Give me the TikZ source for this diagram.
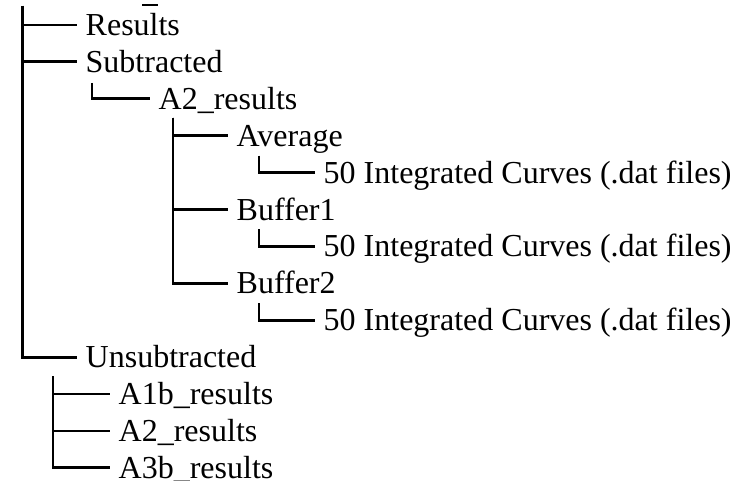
\documentclass[tikz,border=0pt]{standalone}
\usepackage{fontspec}
\setmainfont{Liberation Serif}
\begin{document}
\begin{tikzpicture}[x=1pt,y=-1pt]
	\tikzstyle{branche}=[line width=2.8pt]
	\tikzstyle{dossier}=[anchor=west,inner xsep=8.5pt,inner ysep=0pt,text height=21pt,text depth=0pt,font=\fontsize{32}{38}\selectfont]
	\def\Haut{25}
	\def\InterLignes{36.9}
	\def\NiveauA{77}
	\def\NiveauB{150}
	\def\NiveauC{228}
	\def\NiveauD{315}
	\def\NiveauE{110}
	\useasboundingbox (0,0) rectangle (735,481);
	\node[dossier] (results) at ({\NiveauA},{\Haut+(0)*\InterLignes}) {Results};
	\node[dossier] (subtracted) at ({\NiveauA},{\Haut+(1)*\InterLignes}) {Subtracted};
	\node[dossier] (a2res) at ({\NiveauB},{\Haut+(2)*\InterLignes}) {A2\_results};
	\node[dossier] (average) at ({\NiveauC},{\Haut+(3)*\InterLignes}) {Average};
	\node[dossier] (avgcurves) at ({\NiveauD},{\Haut+(4)*\InterLignes}) {50 Integrated Curves (.dat files)};
	\node[dossier] (bufferone) at ({\NiveauC},{\Haut+(5)*\InterLignes}) {Buffer1};
	\node[dossier] (bufonecurves) at ({\NiveauD},{\Haut+(6)*\InterLignes}) {50 Integrated Curves (.dat files)};
	\node[dossier] (buffertwo) at ({\NiveauC},{\Haut+(7)*\InterLignes}) {Buffer2};
	\node[dossier] (buftwocurves) at ({\NiveauD},{\Haut+(8)*\InterLignes}) {50 Integrated Curves (.dat files)};
	\node[dossier] (unsub) at ({\NiveauA},{\Haut+(9)*\InterLignes}) {Unsubtracted};
	\node[dossier] (aonebres) at ({\NiveauE},{\Haut+(10)*\InterLignes}) {A1b\_results};
	\node[dossier] (atwores) at ({\NiveauE},{\Haut+(11)*\InterLignes}) {A2\_results};
	\node[dossier] (athreebres) at ({\NiveauE},{\Haut+(12)*\InterLignes}) {A3b\_results};
	\coordinate (racine) at (22.7,6);
	\coordinate (subRacine) at (92,{\Haut+(2)*\InterLignes-16});
	\coordinate (a2Racine) at (173,{\Haut+(3)*\InterLignes-18});
	\coordinate (avgRacine) at (259,{\Haut+(4)*\InterLignes-17});
	\coordinate (bufoneRacine) at (259,{\Haut+(6)*\InterLignes-17});
	\coordinate (buftwoRacine) at (259,{\Haut+(8)*\InterLignes-17});
	\coordinate (unsubRacine) at (53,{\Haut+(10)*\InterLignes-18});
	\draw[branche] (racine) |- (results.west);
	\draw[branche] (racine) |- (subtracted.west);
	\draw[branche] (racine) |- (unsub.west);
	\draw[branche] (subRacine) |- (a2res.west);
	\draw[branche] (a2Racine) |- (average.west);
	\draw[branche] (a2Racine) |- (bufferone.west);
	\draw[branche] (a2Racine) |- (buffertwo.west);
	\draw[branche] (avgRacine) |- (avgcurves.west);
	\draw[branche] (bufoneRacine) |- (bufonecurves.west);
	\draw[branche] (buftwoRacine) |- (buftwocurves.west);
	\draw[branche] (unsubRacine) |- (aonebres.west);
	\draw[branche] (unsubRacine) |- (atwores.west);
	\draw[branche] (unsubRacine) |- (athreebres.west);
	% trait coupe en haut
	\draw[line width=1.5pt] (142,5) -- (158,5);
\end{tikzpicture}
\end{document}
